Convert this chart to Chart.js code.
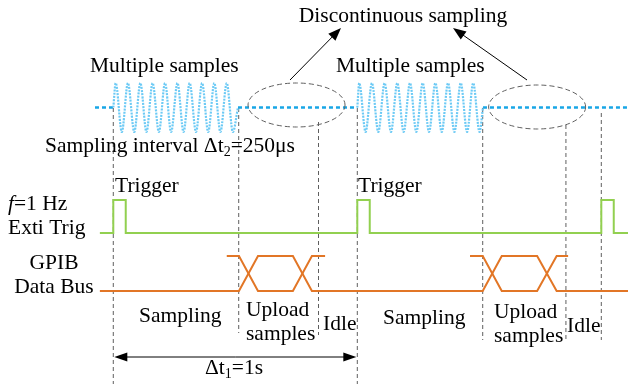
<!DOCTYPE html>
<html><head><meta charset="utf-8">
<script src="https://cdn.jsdelivr.net/npm/chart.js@4"></script>
<style>html,body{margin:0;padding:0;background:#fff}#wrap{width:628px;height:384px}</style>
</head><body><div id="wrap"><canvas id="c" width="628" height="384"></canvas></div>
<script>
// ---- time axis (seconds) ----
const xMin = -0.4643, xMax = 2.1094;

// trigger signal (f = 1 Hz)
const trigTimes  = [-0.055, 0, 0, 0.051, 0.051, 1, 1, 1.051, 1.051, 2, 2, 2.051, 2.051, 2.12];
const trigLevels = [0, 0, 1, 1, 0, 0, 1, 1, 0, 0, 1, 1, 0, 0];

// GPIB data bus (two crossing lines)
const busATimes  = [-0.055, 0.515, 0.593, 0.736, 0.814, 1.514, 1.592, 1.737, 1.817, 2.12];
const busALevels = [0, 0, 1, 1, 0, 0, 1, 1, 0, 0];
const busBTimes  = [0.465, 0.515, 0.593, 0.736, 0.814, 0.868, 1.2, 1.462, 1.514, 1.592, 1.737, 1.817, 1.864];
const busBLevels = [1, 1, 0, 0, 1, 1, null, 1, 1, 0, 0, 1, 1];

// sampled waveform bursts (extremes)
const burst1Times  = [0, 0.010, 0.035, 0.060, 0.086, 0.111, 0.136, 0.161, 0.187, 0.212, 0.237, 0.263, 0.288, 0.313, 0.339, 0.364, 0.389, 0.414, 0.439, 0.465, 0.490, 0.511];
const burst1Levels = [0, 1, -1, 1, -1, 1, -1, 1, -1, 1, -1, 1, -1, 1, -1, 1, -1, 1, -1, 1, -1, 0];
const burst2Times  = [1.000, 1.008, 1.034, 1.060, 1.086, 1.112, 1.138, 1.164, 1.190, 1.216, 1.242, 1.268, 1.294, 1.320, 1.346, 1.372, 1.398, 1.424, 1.450, 1.475, 1.501, 1.515];
const burst2Levels = [0, 1, -1, 1, -1, 1, -1, 1, -1, 1, -1, 1, -1, 1, -1, 1, -1, 1, -1, 1, -1, 0];

// idle baseline of the sampling channel
const baseTimes  = [-0.075, 0, 0.25, 0.511, 1.0, 1.25, 1.515, 2.12];
const baseLevels = [0, 0, null, 0, 0, null, 0, 0];

// event markers (dashed verticals)
const eventTimes = [0, 0.514, 0.841, 1.0, 1.514, 1.855, 2.0];

// ---- styling / layout (pixels) ----
const W = 628, H = 384;
const eventSpan = [[108, 384], [108, 333], [122, 335], [108, 384], [108, 340], [125, 340], [113, 340]];
const FONT = '"Liberation Serif", "Times New Roman", serif';
const FS = 21.5, FSUB = 14;

function pts(xs, ys) { return xs.map((x, i) => ({ x: x, y: ys[i] })); }
function lane(pZero, pOne) {
  const u = pZero - pOne;
  const max = pZero / u;
  return { type: 'linear', min: max - H / u, max: max, display: false };
}

const datasets = [
  { data: pts(trigTimes, trigLevels), yAxisID: 'yTrig', borderColor: '#92d050', borderWidth: 2 },
  { data: pts(busATimes, busALevels), yAxisID: 'yBus', borderColor: '#e27626', borderWidth: 2 },
  { data: pts(busBTimes, busBLevels), yAxisID: 'yBus', borderColor: '#e27626', borderWidth: 2 },
  { data: pts(burst1Times, burst1Levels), yAxisID: 'yWave', borderColor: '#6ccaf5', borderWidth: 2.2, borderDash: [2, 1.2], cubicInterpolationMode: 'monotone' },
  { data: pts(burst2Times, burst2Levels), yAxisID: 'yWave', borderColor: '#6ccaf5', borderWidth: 2.2, borderDash: [2, 1.2], cubicInterpolationMode: 'monotone' },
  { data: pts(baseTimes, baseLevels), yAxisID: 'yWave', borderColor: '#18a6e6', borderWidth: 2.5, borderDash: [4, 3] }
];
eventTimes.forEach((t, i) => {
  datasets.push({ data: [{ x: t, y: eventSpan[i][0] }, { x: t, y: eventSpan[i][1] }], yAxisID: 'yPx',
    borderColor: '#5f5f5f', borderWidth: 1, borderDash: [4, 3] });
});
datasets.forEach(d => { d.pointRadius = 0; d.fill = false; d.spanGaps = false; d.tension = 0; });

function arrow(ctx, x1, y1, x2, y2, len, half) {
  const a = Math.atan2(y2 - y1, x2 - x1);
  ctx.beginPath(); ctx.moveTo(x1, y1);
  ctx.lineTo(x2 - Math.cos(a) * len * 0.8, y2 - Math.sin(a) * len * 0.8); ctx.stroke();
  ctx.beginPath(); ctx.moveTo(x2, y2);
  ctx.lineTo(x2 - Math.cos(a) * len + Math.sin(a) * half, y2 - Math.sin(a) * len - Math.cos(a) * half);
  ctx.lineTo(x2 - Math.cos(a) * len - Math.sin(a) * half, y2 - Math.sin(a) * len + Math.cos(a) * half);
  ctx.closePath(); ctx.fill();
}

const decor = {
  id: 'decor',
  afterDatasetsDraw(chart) {
    const ctx = chart.ctx, xs = chart.scales.x;
    ctx.save();
    // ellipses
    ctx.strokeStyle = '#5f5f5f'; ctx.lineWidth = 1; ctx.setLineDash([5, 3]);
    [[0.751, 105], [1.737, 107]].forEach(e => {
      ctx.beginPath(); ctx.ellipse(xs.getPixelForValue(e[0]), e[1], 48.5, 22, 0, 0, Math.PI * 2); ctx.stroke();
    });
    ctx.setLineDash([]);
    // arrows
    ctx.strokeStyle = '#000'; ctx.fillStyle = '#000'; ctx.lineWidth = 1;
    arrow(ctx, 290, 80, 341, 28, 13, 5);
    arrow(ctx, 527, 80, 453, 28, 13, 5);
    const xa = xs.getPixelForValue(0), xb = xs.getPixelForValue(1);
    arrow(ctx, (xa + xb) / 2, 357, xa + 1, 357, 13, 4.5);
    arrow(ctx, (xa + xb) / 2, 357, xb - 1, 357, 13, 4.5);
    // texts
    ctx.fillStyle = '#000'; ctx.textBaseline = 'alphabetic';
    const fMain = FS + 'px ' + FONT, fSub = FSUB + 'px ' + FONT;
    function txt(s, x, y, align, font) { ctx.font = font || fMain; ctx.textAlign = align || 'left'; ctx.fillText(s, x, y); }
    txt('Discontinuous sampling', 403, 22, 'center');
    txt('Multiple samples', 90, 72);
    txt('Multiple samples', 336, 72);
    // Sampling interval Δt2=250μs
    let x = 45; ctx.font = fMain; ctx.textAlign = 'left';
    let s = 'Sampling interval \u0394t'; ctx.fillText(s, x, 152); x += ctx.measureText(s).width;
    ctx.font = fSub; ctx.fillText('2', x, 156); x += ctx.measureText('2').width;
    ctx.font = fMain; ctx.fillText('=250\u03bcs', x, 152);
    txt('Trigger', 115, 192);
    txt('Trigger', 358, 192);
    // f=1 Hz
    ctx.font = 'italic ' + FS + 'px ' + FONT; ctx.textAlign = 'left'; ctx.fillText('f', 8, 210);
    x = 8 + ctx.measureText('f').width; ctx.font = fMain; ctx.fillText('=1 Hz', x, 210);
    txt('Exti Trig', 8, 234);
    txt('GPIB', 54, 269, 'center');
    txt('Data Bus', 54, 293, 'center');
    txt('Sampling', 139, 322);
    txt('Upload', 246, 316);
    txt('samples', 246, 340);
    txt('Idle', 323, 330);
    txt('Sampling', 383, 324);
    txt('Upload', 494, 318);
    txt('samples', 494, 342);
    txt('Idle', 567, 332);
    // Δt1=1s
    x = 205; ctx.font = fMain; s = '\u0394t'; ctx.fillText(s, x, 374); x += ctx.measureText(s).width;
    ctx.font = fSub; ctx.fillText('1', x, 378); x += ctx.measureText('1').width;
    ctx.font = fMain; ctx.fillText('=1s', x, 374);
    ctx.restore();
  }
};

new Chart(document.getElementById('c'), {
  type: 'line',
  data: { datasets: datasets },
  options: {
    responsive: false, animation: false, events: [],
    layout: { padding: 0 },
    plugins: { legend: { display: false }, tooltip: { enabled: false }, title: { display: false } },
    scales: {
      x: { type: 'linear', min: xMin, max: xMax, display: false },
      yPx: { type: 'linear', min: 0, max: H, reverse: true, display: false },
      yWave: lane(107.5, 83),
      yTrig: lane(233, 200),
      yBus: lane(291, 256)
    }
  },
  plugins: [decor]
});
</script></body></html>
